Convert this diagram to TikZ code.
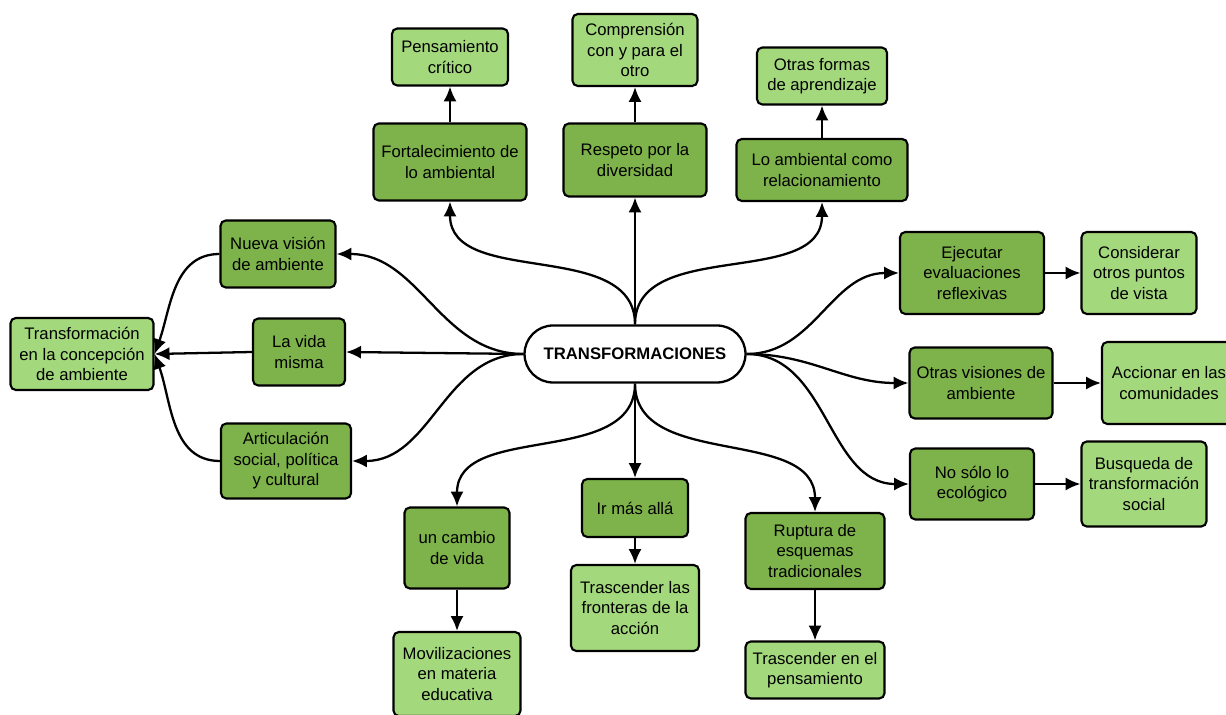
\documentclass[tikz,border=0pt]{standalone}
\usepackage{fontspec}
\setmainfont{Liberation Sans}
\usetikzlibrary{arrows.meta}
\definecolor{darkleaf}{HTML}{7DB34A}
\definecolor{lightleaf}{HTML}{A3D97C}

\begin{document}
\begin{tikzpicture}[x=0.02cm, y=0.02cm, font=\fontsize{9.5}{11.7}\selectfont, line width=1.3pt,
	box/.style={draw, rectangle, rounded corners=3pt, align=center, inner sep=1pt, line width=1.2pt},
	dark/.style={box, fill=darkleaf},
	light/.style={box, fill=lightleaf},
	>={Latex[length=8.5pt, width=7.5pt]}]
	\useasboundingbox (0,0) rectangle (1226,-715);

	\node[draw, rounded corners=0.57cm, minimum width=4.42cm, minimum height=1.14cm, fill=white] (tr) at (635,-354) {\textbf{TRANSFORMACIONES}};

	% left
	\node[dark, minimum width=2.30cm, minimum height=1.34cm] (nv) at (278,-254) {Nueva visión\\de ambiente};
	\node[dark, minimum width=1.84cm, minimum height=1.34cm] (vm) at (299,-352) {La vida\\misma};
	\node[dark, minimum width=2.60cm, minimum height=1.50cm] (as) at (286,-461) {Articulación\\social, política\\y cultural};
	\node[light, minimum width=2.86cm, minimum height=1.44cm] (tc) at (82,-354) {Transformación\\en la concepción\\de ambiente};

	% top
	\node[dark, minimum width=3.06cm, minimum height=1.54cm] (fa) at (450,-162) {Fortalecimiento de\\lo ambiental};
	\node[light, minimum width=2.32cm, minimum height=1.14cm] (pc) at (450,-57) {Pensamiento\\crítico};
	\node[dark, minimum width=2.86cm, minimum height=1.46cm] (rd) at (635,-160) {Respeto por la\\diversidad};
	\node[light, minimum width=2.50cm, minimum height=1.44cm] (co) at (635,-50) {Comprensión\\con y para el\\otro};
	\node[dark, minimum width=3.42cm, minimum height=1.24cm] (ar) at (822,-170) {Lo ambiental como\\relacionamiento};
	\node[light, minimum width=2.60cm, minimum height=1.14cm] (of) at (822,-76) {Otras formas\\de aprendizaje};

	% right
	\node[dark, minimum width=2.88cm, minimum height=1.64cm] (ee) at (972,-273) {Ejecutar\\evaluaciones\\reflexivas};
	\node[light, minimum width=2.30cm, minimum height=1.64cm] (op) at (1139,-273) {Considerar\\otros puntos\\de vista};
	\node[dark, minimum width=2.86cm, minimum height=1.42cm] (ov) at (981,-383) {Otras visiones de\\ambiente};
	\node[light, minimum width=2.68cm, minimum height=1.64cm] (ac) at (1169,-383) {Accionar en las\\comunidades};
	\node[dark, minimum width=2.48cm, minimum height=1.42cm] (ns) at (972,-484) {No sólo lo\\ecológico};
	\node[light, minimum width=2.50cm, minimum height=1.70cm] (bt) at (1144,-484) {Busqueda de\\transformación\\social};

	% bottom
	\node[dark, minimum width=2.10cm, minimum height=1.62cm] (cv) at (457,-548) {un cambio\\de vida};
	\node[light, minimum width=2.54cm, minimum height=1.68cm] (me) at (457,-674) {Movilizaciones\\en materia\\educativa};
	\node[dark, minimum width=2.12cm, minimum height=1.16cm] (im) at (635,-508) {Ir más allá};
	\node[light, minimum width=2.56cm, minimum height=1.72cm] (tf) at (635,-608) {Trascender las\\fronteras de la\\acción};
	\node[dark, minimum width=2.78cm, minimum height=1.52cm] (re) at (815,-551) {Ruptura de\\esquemas\\tradicionales};
	\node[light, minimum width=2.78cm, minimum height=1.14cm] (tp) at (815,-670) {Trascender en el\\pensamiento};

	\draw[->] (tr.west) to[out=180, in=0] (nv.east);
	\draw[->] (tr.west) to (vm.east);
	\draw[->] (tr.west) to[out=180, in=0] (as.east);
	\draw[->] (nv.west) to[out=180, in=70] (tc.east);
	\draw[->] (vm.west) to (tc.east);
	\draw[->] (as.west) to[out=180, in=-70] (tc.east);

	\draw[->] (tr.north) to[out=90, in=-90] (fa.south);
	\draw[->] (tr.north) to (rd.south);
	\draw[->] (tr.north) to[out=90, in=-90] (ar.south);
	\draw[->] (fa) to (pc);
	\draw[->] (rd) to (co);
	\draw[->] (ar) to (of);

	\draw[->] (tr.east) to[out=0, in=180] (ee.west);
	\draw[->] (tr.east) to[out=0, in=180] (ov.west);
	\draw[->] (tr.east) to[out=0, in=180] (ns.west);
	\draw[->] (ee) to (op);
	\draw[->] (ov) to (ac);
	\draw[->] (ns) to (bt);

	\draw[->] (tr.south) to[out=-90, in=90] (cv.north);
	\draw[->] (tr.south) to (im.north);
	\draw[->] (tr.south) to[out=-90, in=90] (re.north);
	\draw[->] (cv) to (me);
	\draw[->] (im) to (tf);
	\draw[->] (re) to (tp);
\end{tikzpicture}
\end{document}
